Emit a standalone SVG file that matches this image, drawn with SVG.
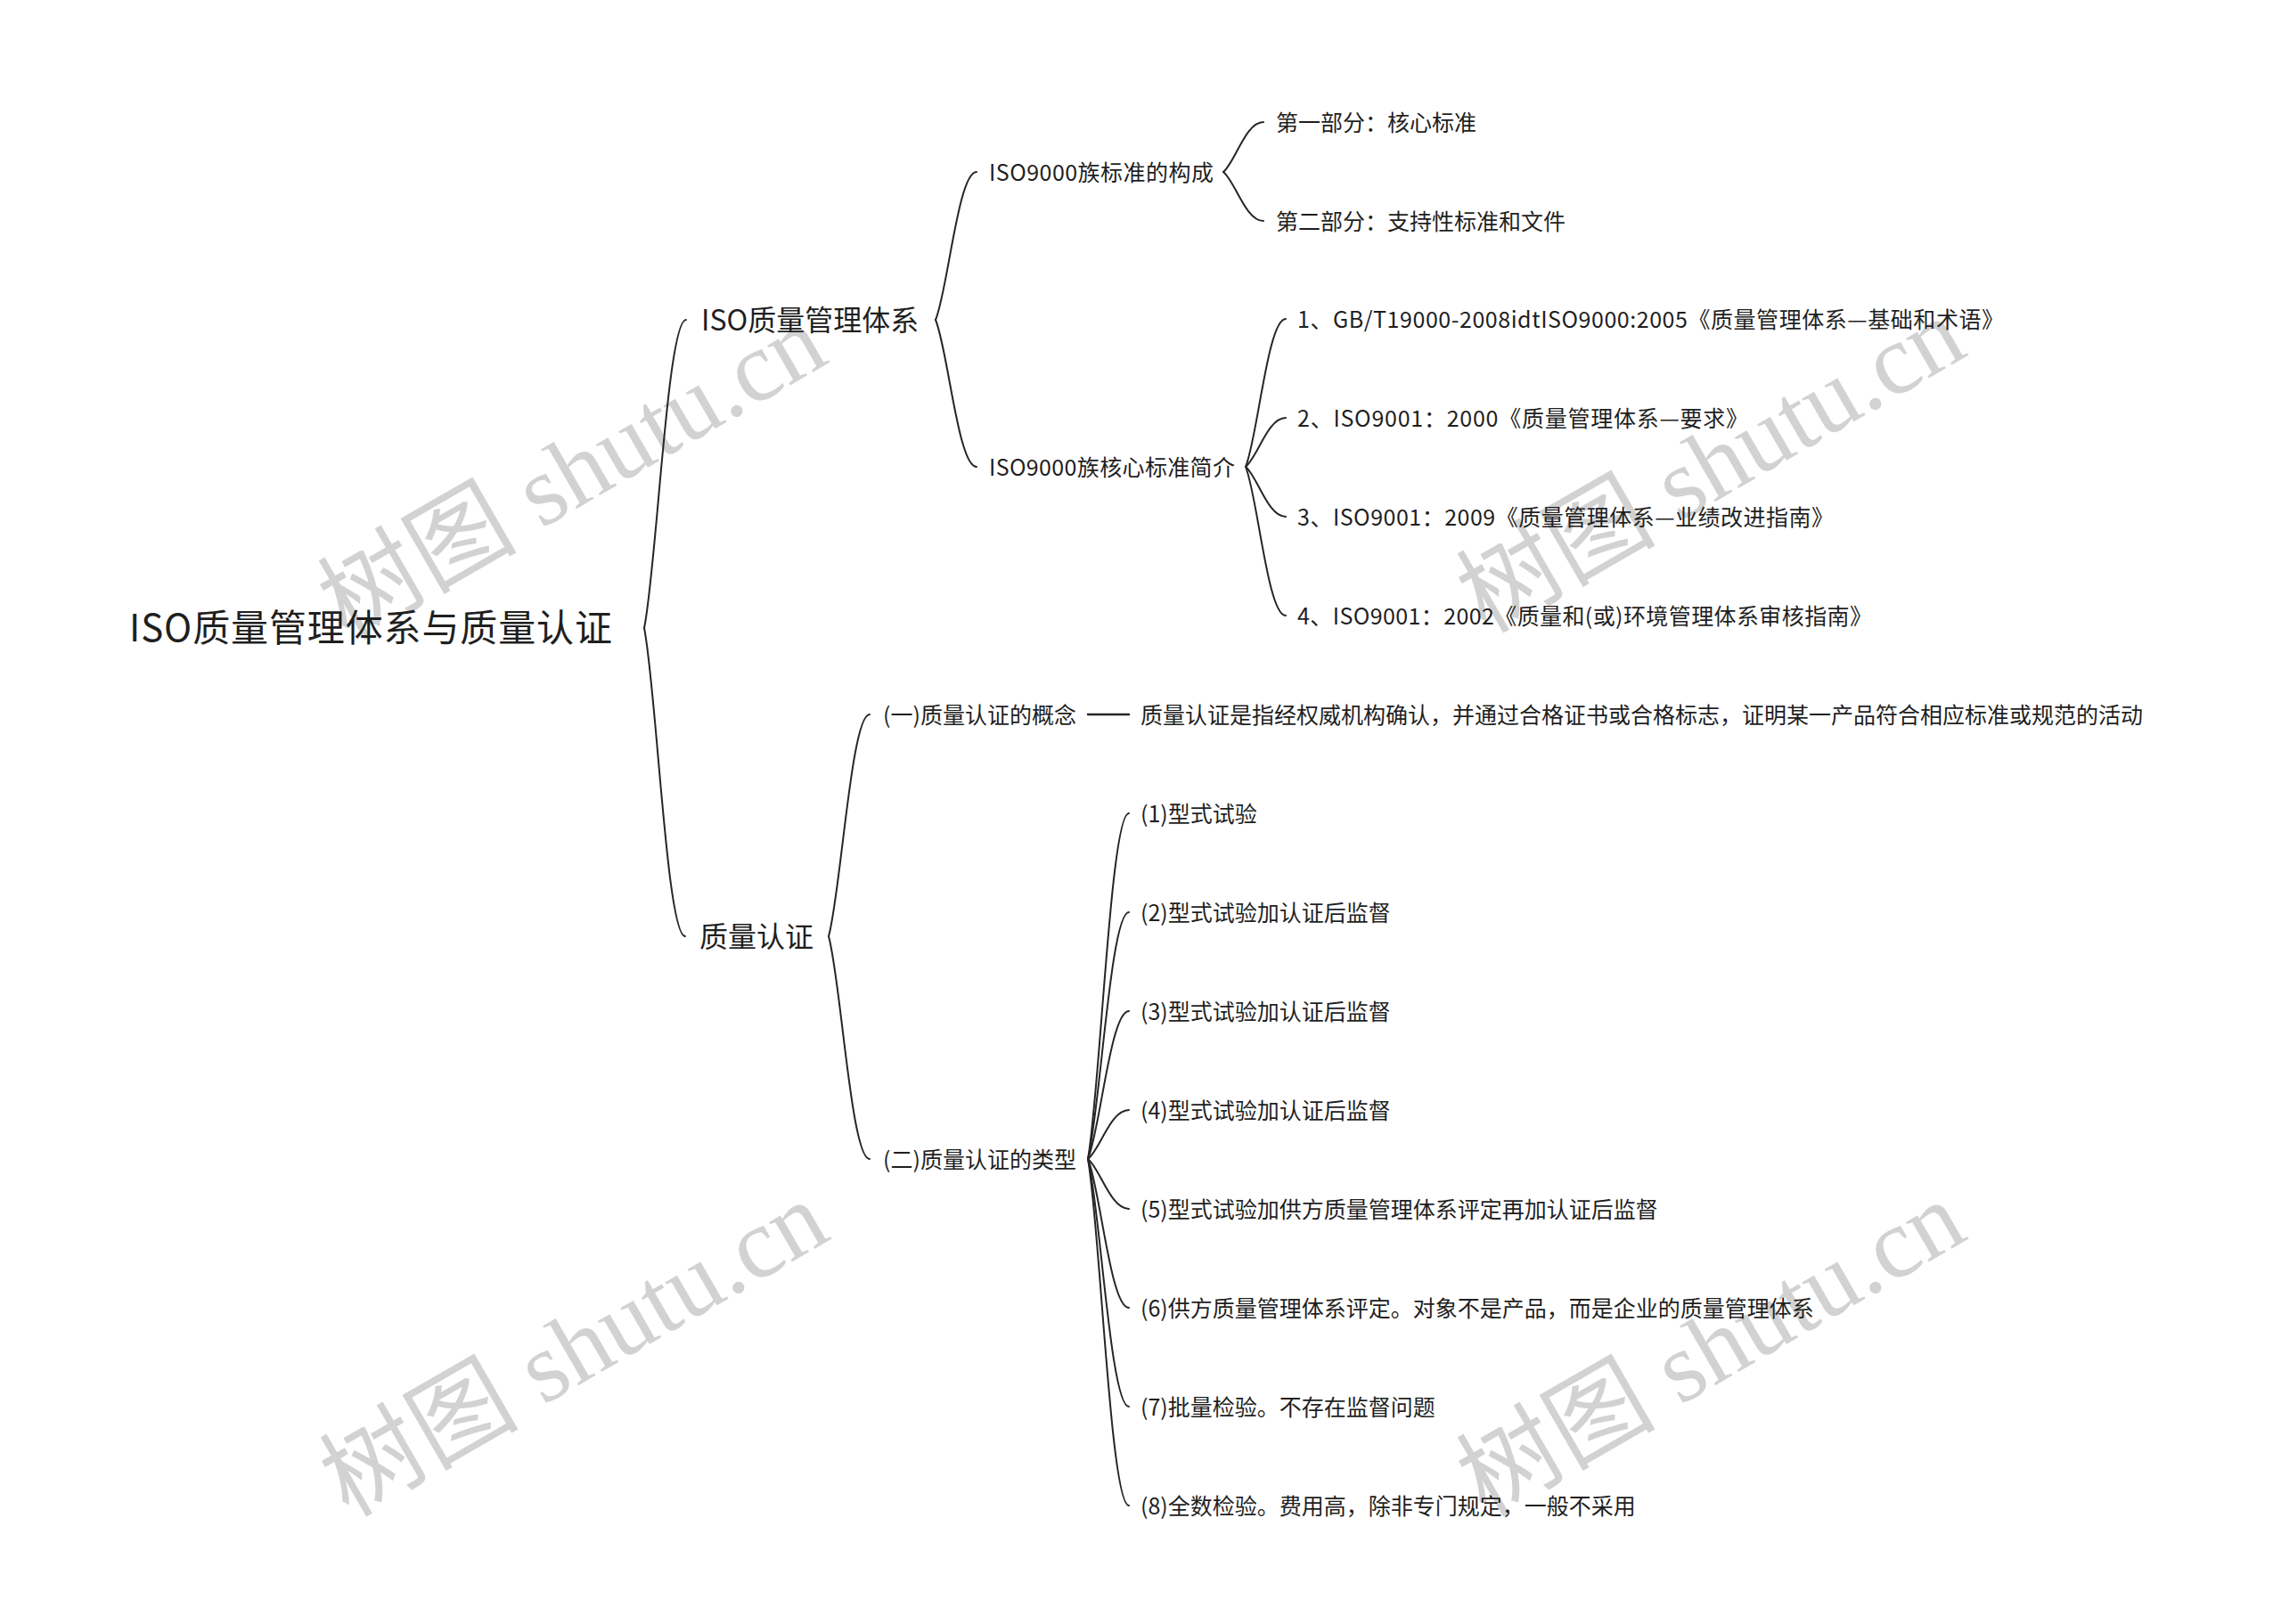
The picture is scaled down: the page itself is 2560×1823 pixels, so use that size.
<svg xmlns="http://www.w3.org/2000/svg" width="2560" height="1823" viewBox="0 0 2560 1823">
<style>
text{font-family:"Noto Sans CJK SC","Noto Sans",sans-serif;fill:#1f1f1f;}
.root{font-size:42px;}
.l1{font-size:32px;}
.t{font-size:25px;}
.wm{font-family:"Liberation Serif","Noto Sans CJK SC",serif;font-size:112px;fill:#d2d2d2;text-anchor:middle;dominant-baseline:central;}
#connectors path{fill:none;stroke:#262626;stroke-width:2;stroke-linecap:round;}
</style>
<rect width="2560" height="1823" fill="#ffffff"/>
<g id="watermarks">
<text class="wm" transform="translate(642,530) rotate(-30)">树图 shutu.cn</text>
<text class="wm" transform="translate(1920,522) rotate(-30)">树图 shutu.cn</text>
<text class="wm" transform="translate(644,1514) rotate(-30)">树图 shutu.cn</text>
<text class="wm" transform="translate(1920,1514) rotate(-30)">树图 shutu.cn</text>
</g>
<g id="connectors">
<path d="M723,705 C737.1,635.8 748.9,359 770,359"/>
<path d="M723,705 C736.8,774.2 748.3,1051 769,1051"/>
<path d="M1050,359 C1063.8,325.8 1075.3,193 1096,193"/>
<path d="M1050,359 C1063.8,392 1075.3,524 1096,524"/>
<path d="M1373,193 C1386.5,181.8 1397.75,137 1418,137"/>
<path d="M1373,193 C1386.5,204 1397.75,248 1418,248"/>
<path d="M1398,524 C1411.5,490.8 1422.75,358 1443,358"/>
<path d="M1398,524 C1411.5,513 1422.75,469 1443,469"/>
<path d="M1398,524 C1411.5,535.2 1422.75,580 1443,580"/>
<path d="M1398,524 C1411.5,557.4 1422.75,691 1443,691"/>
<path d="M930,1051 C943.8,1001.2 955.3,802 976,802"/>
<path d="M930,1051 C943.8,1101 955.3,1301 976,1301"/>
<path d="M1221,802 L1267,802" style="stroke-width:2.5"/>
<path d="M1221,1301 C1234.8,1223.4 1246.3,913 1267,913"/>
<path d="M1221,1301 C1234.8,1245.6 1246.3,1024 1267,1024"/>
<path d="M1221,1301 C1234.8,1267.8 1246.3,1135 1267,1135"/>
<path d="M1221,1301 C1234.8,1290 1246.3,1246 1267,1246"/>
<path d="M1221,1301 C1234.8,1312.2 1246.3,1357 1267,1357"/>
<path d="M1221,1301 C1234.8,1334.4 1246.3,1468 1267,1468"/>
<path d="M1221,1301 C1234.8,1356.6 1246.3,1579 1267,1579"/>
<path d="M1221,1301 C1234.8,1378.8 1246.3,1690 1267,1690"/>
</g>
<g id="root"><text class="root" x="145" y="720" textLength="542" lengthAdjust="spacing">ISO质量管理体系与质量认证</text></g>
<g id="n-iso"><text class="l1" x="787" y="371">ISO质量管理体系</text></g>
<g id="n-cert"><text class="l1" x="785" y="1063">质量认证</text></g>
<g id="n-iso-comp"><text class="t" x="1110" y="202.5" textLength="252" lengthAdjust="spacing">ISO9000族标准的构成</text></g>
<g id="n-part1"><text class="t" x="1432" y="146.5">第一部分：核心标准</text></g>
<g id="n-part2"><text class="t" x="1432" y="257.5">第二部分：支持性标准和文件</text></g>
<g id="n-iso-core"><text class="t" x="1110" y="533.5" textLength="276" lengthAdjust="spacing">ISO9000族核心标准简介</text></g>
<g id="n-core1"><text class="t" x="1456" y="367.5" textLength="793" lengthAdjust="spacing">1、GB/T19000-2008idtISO9000:2005《质量管理体系—基础和术语》</text></g>
<g id="n-core2"><text class="t" x="1456" y="478.5" textLength="506" lengthAdjust="spacing">2、ISO9001：2000《质量管理体系—要求》</text></g>
<g id="n-core3"><text class="t" x="1456" y="589.5" textLength="602" lengthAdjust="spacing">3、ISO9001：2009《质量管理体系—业绩改进指南》</text></g>
<g id="n-core4"><text class="t" x="1456" y="700.5" textLength="645" lengthAdjust="spacing">4、ISO9001：2002《质量和(或)环境管理体系审核指南》</text></g>
<g id="n-concept"><text class="t" x="991" y="811.5">(一)质量认证的概念</text></g>
<g id="n-concept-def"><text class="t" x="1280" y="811.5">质量认证是指经权威机构确认，并通过合格证书或合格标志，证明某一产品符合相应标准或规范的活动</text></g>
<g id="n-types"><text class="t" x="991" y="1310.5">(二)质量认证的类型</text></g>
<g id="n-type1"><text class="t" x="1280" y="922.5">(1)型式试验</text></g>
<g id="n-type2"><text class="t" x="1280" y="1033.5">(2)型式试验加认证后监督</text></g>
<g id="n-type3"><text class="t" x="1280" y="1144.5">(3)型式试验加认证后监督</text></g>
<g id="n-type4"><text class="t" x="1280" y="1255.5">(4)型式试验加认证后监督</text></g>
<g id="n-type5"><text class="t" x="1280" y="1366.5">(5)型式试验加供方质量管理体系评定再加认证后监督</text></g>
<g id="n-type6"><text class="t" x="1280" y="1477.5">(6)供方质量管理体系评定。对象不是产品，而是企业的质量管理体系</text></g>
<g id="n-type7"><text class="t" x="1280" y="1588.5">(7)批量检验。不存在监督问题</text></g>
<g id="n-type8"><text class="t" x="1280" y="1699.5">(8)全数检验。费用高，除非专门规定，一般不采用</text></g>
</svg>
